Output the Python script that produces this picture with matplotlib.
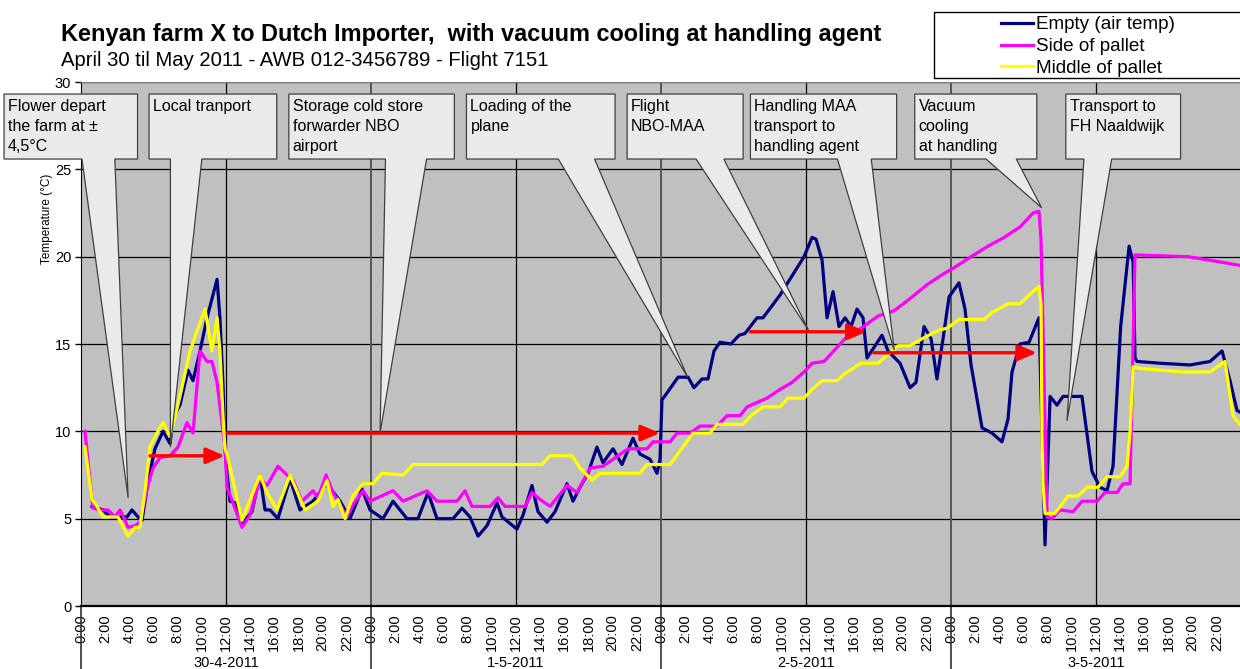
import matplotlib
matplotlib.use('Agg')
import matplotlib.pyplot as plt
from matplotlib.patches import Polygon, Rectangle
from matplotlib.transforms import blended_transform_factory

plt.rcParams['font.family'] = ['Liberation Sans', 'DejaVu Sans']

# ---- data (hours since 30-4-2011 0:00, temperature in °C) ----
hours_empty = [0.91, 1.82, 2.40, 3.81, 4.22, 4.72, 5.05, 5.54, 6.12, 6.79, 7.37, 7.61, 8.19, 8.86, 9.27,
               9.85, 10.43, 11.26, 11.50, 11.75, 11.92, 12.08, 12.33, 12.75, 13.32, 14.15, 14.81, 15.23,
               15.64, 16.30, 17.30, 18.12, 19.20, 20.36, 21.44, 22.26, 23.26, 23.92, 24.99, 25.82, 26.98,
               27.89, 28.72, 29.46, 30.79, 31.53, 32.19, 32.86, 33.60, 34.43, 34.84, 36.08, 36.58, 37.32,
               37.82, 38.57, 39.23, 40.22, 40.72, 41.30, 41.96, 42.70, 43.20, 44.03, 44.77, 45.68, 46.26,
               47.09, 47.67, 47.92, 48.08, 48.50, 49.41, 50.24, 50.73, 51.40, 51.89, 52.39, 52.88, 53.79,
               54.46, 54.95, 55.95, 56.44, 57.85, 59.84, 60.50, 60.83, 61.33, 61.74, 62.24, 62.73, 63.23,
               63.73, 64.22, 64.72, 65.05, 66.29, 66.79, 67.78, 68.61, 69.10, 69.77, 70.35, 70.84, 71.34,
               71.84, 72.66, 73.16, 73.66, 74.57, 75.39, 76.22, 76.72, 77.05, 77.71, 78.46, 79.28, 79.78,
               80.20, 80.77, 81.27, 82.84, 83.67, 84.33, 84.91, 85.41, 86.04, 86.74, 87.07, 87.23, 87.40,
               89.30, 91.78, 92.61, 93.44, 94.43, 95.09, 95.67, 95.92]
temp_empty = [5.7, 5.5, 5.1, 5.1, 5.5, 5.1, 4.9, 7.1, 9.0, 10.0, 9.3, 10.8, 11.5, 13.5, 12.9,
              14.6, 16.5, 18.7, 16.5, 12.7, 9.0, 7.6, 6.0, 5.9, 4.7, 5.4, 7.5, 5.5,
              5.5, 5.0, 7.3, 5.5, 6.0, 7.0, 6.0, 5.0, 6.7, 5.5, 5.0, 6.0, 5.0,
              5.0, 6.5, 5.0, 5.0, 5.6, 5.1, 4.0, 4.6, 5.9, 5.1, 4.4, 5.2, 6.9,
              5.4, 4.8, 5.4, 7.0, 6.0, 6.8, 7.6, 9.1, 8.2, 9.0, 8.1, 9.6, 8.7,
              8.4, 7.6, 8.4, 11.8, 12.2, 13.1, 13.1, 12.5, 13.0, 13.0, 14.6, 15.1, 15.0,
              15.5, 15.6, 16.5, 16.5, 17.8, 20.0, 21.1, 21.0, 19.8, 16.5, 18.0, 16.0, 16.5,
              16.0, 17.0, 16.5, 14.2, 15.5, 14.6, 13.9, 12.5, 12.8, 16.0, 15.3, 13.0, 15.3,
              17.7, 18.5, 17.0, 13.8, 10.2, 9.9, 9.4, 10.7, 13.4, 15.0, 15.1, 16.5, 3.5,
              12.0, 11.5, 12.0, 12.0, 7.7, 6.8, 6.6, 8.0, 16.0, 20.6, 19.7, 14.2, 14.0,
              13.9, 13.8, 13.9, 14.0, 14.6, 12.9, 11.2, 11.1]

hours_side = [0.33, 0.74, 0.99, 1.57, 2.23, 2.81, 3.23, 3.64, 3.89, 4.47, 4.88, 5.46, 5.96, 6.54, 7.37,
              8.03, 8.77, 9.27, 9.85, 10.43, 10.84, 11.26, 11.75, 11.92, 12.08, 12.58, 13.32, 13.99,
              14.81, 15.39, 16.30, 17.05, 17.55, 18.29, 19.20, 19.61, 20.28, 20.86, 22.01, 22.51, 23.34,
              23.92, 25.82, 26.65, 28.64, 29.46, 31.12, 31.78, 32.36, 33.85, 34.51, 35.09, 36.75, 37.32,
              37.99, 38.82, 40.22, 41.05, 42.13, 43.20, 44.03, 45.27, 46.84, 47.34, 48.75, 49.33, 50.40,
              51.23, 52.64, 53.46, 54.54, 55.12, 56.77, 57.85, 58.84, 59.84, 60.50, 61.49, 63.23, 64.55,
              65.96, 67.28, 68.61, 70.02, 71.34, 72.33, 73.66, 75.06, 76.39, 77.71, 78.79, 79.28, 79.45,
              79.62, 79.95, 80.36, 81.02, 82.10, 82.84, 84.09, 84.75, 85.74, 86.24, 86.82, 87.07, 87.23,
              91.62, 94.26, 95.92]
temp_side = [10.0, 7.2, 5.6, 5.5, 5.5, 5.1, 5.5, 4.9, 4.5, 4.6, 4.8, 6.7, 7.9, 8.5, 8.6,
             9.1, 10.5, 9.9, 14.6, 14.0, 14.0, 12.8, 10.0, 9.1, 6.8, 5.9, 4.5, 5.2,
             7.3, 6.9, 8.0, 7.5, 7.2, 6.0, 6.6, 6.2, 7.5, 6.5, 5.1, 5.8, 6.6,
             6.0, 6.6, 6.0, 6.6, 6.0, 6.0, 6.6, 5.7, 5.7, 6.2, 5.7, 5.7, 6.5,
             6.1, 5.7, 6.9, 6.5, 7.9, 8.0, 8.4, 9.0, 9.0, 9.4, 9.4, 9.9, 9.9,
             10.3, 10.3, 10.9, 10.9, 11.4, 11.9, 12.4, 12.8, 13.4, 13.9, 14.0, 15.3, 15.9,
             16.6, 16.9, 17.6, 18.4, 19.0, 19.4, 20.0, 20.6, 21.1, 21.7, 22.5, 22.6, 21.0,
             15.8, 5.1, 5.0, 5.5, 5.4, 6.0, 6.0, 6.5, 6.5, 7.0, 7.0, 15.0, 20.1,
             20.0, 19.7, 19.5]

hours_middle = [0.33, 0.91, 1.32, 1.82, 3.06, 3.89, 4.47, 4.88, 5.30, 5.71, 6.29, 6.79, 7.37, 8.19, 9.02,
                10.26, 10.84, 11.26, 11.50, 11.75, 11.92, 12.08, 12.58, 13.32, 14.81, 15.39, 16.22, 17.30,
                18.54, 19.61, 20.36, 20.86, 21.27, 21.85, 22.51, 23.34, 24.17, 24.91, 26.65, 27.48, 38.15,
                38.81, 40.64, 41.30, 42.29, 42.95, 46.26, 46.84, 48.75, 50.65, 52.06, 52.64, 54.79, 55.45,
                56.44, 57.85, 58.51, 59.84, 60.50, 61.33, 62.57, 63.23, 64.55, 65.96, 66.62, 67.62, 68.61,
                69.60, 71.01, 71.67, 72.66, 74.73, 75.39, 76.72, 77.71, 78.46, 79.28, 79.45, 79.53, 79.62,
                79.78, 80.61, 81.68, 82.51, 83.26, 84.17, 84.92, 85.99, 86.57, 86.82, 87.07, 87.65, 91.21,
                93.44, 94.68, 95.34, 95.92]
temp_middle = [9.1, 6.1, 5.7, 5.1, 5.1, 4.0, 4.5, 4.5, 6.6, 9.1, 9.9, 10.5, 9.7, 12.0, 14.6,
               17.0, 14.6, 16.5, 14.6, 10.9, 9.0, 8.7, 7.2, 4.9, 7.5, 6.5, 5.5, 7.5,
               5.5, 6.0, 7.2, 5.7, 6.1, 5.0, 6.3, 7.0, 7.0, 7.6, 7.5, 8.1, 8.1,
               8.6, 8.6, 7.9, 7.2, 7.6, 7.6, 8.1, 8.1, 9.9, 9.9, 10.4, 10.4, 10.9,
               11.4, 11.4, 11.9, 11.9, 12.4, 12.9, 12.9, 13.3, 13.9, 13.9, 14.3, 14.9, 14.9,
               15.3, 15.8, 15.9, 16.4, 16.4, 16.8, 17.3, 17.3, 17.8, 18.3, 17.3, 9.7, 7.0,
               5.3, 5.3, 6.3, 6.3, 6.8, 6.8, 7.4, 7.4, 8.0, 10.0, 13.7, 13.6, 13.4,
               13.4, 14.0, 10.9, 10.4]

series_labels = ['Empty (air temp)', 'Side of pallet', 'Middle of pallet']
dates = ['30-4-2011', '1-5-2011', '2-5-2011', '3-5-2011']

callout_texts = ['Flower depart\nthe farm at ±\n4,5°C',
                 'Local tranport',
                 'Storage cold store\nforwarder NBO\nairport',
                 'Loading of the\nplane',
                 'Flight\nNBO-MAA',
                 'Handling MAA\ntransport to\nhandling agent',
                 'Vacuum\ncooling\nat handling',
                 'Transport to\nFH Naaldwijk']

# box left, box right, tail base left, tail base right, tip x, tip y  (hours / °C)
callout_geom = [(-6.37, 4.68, 0.08, 2.8, 3.9, 6.2),
                (5.63, 16.2, 7.4, 10.0, 7.4, 9.1),
                (17.2, 30.9, 25.2, 28.6, 24.75, 9.9),
                (31.9, 44.2, 39.5, 42.5, 50.2, 13.1),
                (45.2, 54.8, 50.9, 53.2, 60.2, 15.8),
                (55.4, 67.5, 62.6, 65.4, 67.3, 14.65),
                (69.0, 79.1, 74.9, 77.4, 79.5, 22.8),
                (81.5, 91.0, 83.0, 85.3, 81.6, 10.6)]
box_top, box_bottom = 29.31, 25.59

# red arrows: start hour, end hour, temperature
arrows = [(5.7, 11.9, 8.6), (12.1, 47.9, 9.9), (55.4, 65.0, 15.7), (65.6, 79.1, 14.5)]

# ---- figure ----
W, H = 1240, 669
fig = plt.figure(figsize=(W / 100, H / 100), dpi=100)
ax = fig.add_axes([81 / W, 63 / H, 1160 / W, 524 / H])
ax.set_facecolor('#C0C0C0')

ax.plot(hours_empty, temp_empty, color='#000080', lw=2.3, label=series_labels[0], zorder=3)
ax.plot(hours_side, temp_side, color='#FF00FF', lw=2.3, label=series_labels[1], zorder=3)
ax.plot(hours_middle, temp_middle, color='#FFFF00', lw=2.3, label=series_labels[2], zorder=3)

ax.set_xlim(0, 96)
ax.set_ylim(0, 30)
ax.set_yticks(range(0, 31, 5))
ax.yaxis.grid(True, color='black', lw=0.9)
ax.set_axisbelow(True)
for x in [12, 36, 60, 84]:
    ax.axvline(x, color='black', lw=0.9, zorder=1)
for x in [24, 48, 72]:
    ax.axvline(x, color='#555555', lw=1.4, zorder=1)

ticks = list(range(0, 96, 2))
ax.set_xticks(ticks)
ax.set_xticklabels([f'{t % 24}:00' for t in ticks], rotation=90)
ax.tick_params(axis='x', length=0, pad=6, labelsize=10.5)
ax.tick_params(axis='y', length=4, width=1, pad=3, labelsize=10.5)

for s in ['left', 'bottom']:
    ax.spines[s].set_color('black')
ax.spines['bottom'].set_linewidth(1.6)
ax.spines['top'].set_color('#808080')
ax.spines['right'].set_visible(False)

# day separators below the axis and the date labels
trans = blended_transform_factory(ax.transData, ax.transAxes)
for d in [0, 24, 48, 72]:
    ax.plot([d, d], [0, -0.125], transform=trans, color='#333333', lw=1.2, clip_on=False)
ftrans = blended_transform_factory(ax.transData, fig.transFigure)
for i, d in enumerate(dates):
    ax.text(12 + 24 * i, 1 - 667 / H, d, transform=ftrans, ha='center', va='baseline', fontsize=10.5)

fig.text(47 / W, 1 - 219 / H, 'Temperature (°C)', rotation=90, ha='center', va='center', fontsize=8.5)

fig.text(61 / W, 1 - 34 / H, 'Kenyan farm X to Dutch Importer,  with vacuum cooling at handling agent',
         fontsize=16.9, fontweight='bold', va='center')
fig.text(61 / W, 1 - 60 / H, 'April 30 til May 2011 - AWB 012-3456789 - Flight 7151',
         fontsize=14.6, va='center')

# legend with a square frame running off the right edge
fig.add_artist(Rectangle((934 / W, 1 - 78 / H), 330 / W, 66 / H, transform=fig.transFigure,
                         facecolor='white', edgecolor='black', lw=1, zorder=4))
handles, labels = ax.get_legend_handles_labels()
leg = fig.legend(handles, labels, loc='upper left', bbox_to_anchor=(1001 / W, 1 - 16 / H),
                 frameon=False, fontsize=13.6, handlelength=1.7, handletextpad=0.15,
                 labelspacing=0.25, borderpad=0, borderaxespad=0)
leg.set_zorder(5)

# red arrows
for x0, x1, t in arrows:
    ax.annotate('', xy=(x1, t), xytext=(x0, t), zorder=8, annotation_clip=False,
                arrowprops=dict(arrowstyle='-|>,head_length=0.7,head_width=0.3', color='#FF0000',
                                lw=2.4, shrinkA=0, shrinkB=0, mutation_scale=16))

# callouts
for txt, (l, r, bl, br, tx, ty) in zip(callout_texts, callout_geom):
    pts = [(l, box_top), (r, box_top), (r, box_bottom), (br, box_bottom), (tx, ty),
           (bl, box_bottom), (l, box_bottom)]
    ax.add_patch(Polygon(pts, closed=True, facecolor='#EAEAEA', edgecolor='#404040', lw=0.9,
                         zorder=6, clip_on=False))
    ax.annotate(txt, xy=(l, box_top), xytext=(4, -5), textcoords='offset pixels', ha='left', va='top',
                fontsize=11.5, linespacing=1.43, zorder=7, annotation_clip=False)

fig.savefig('out.png', dpi=100)
